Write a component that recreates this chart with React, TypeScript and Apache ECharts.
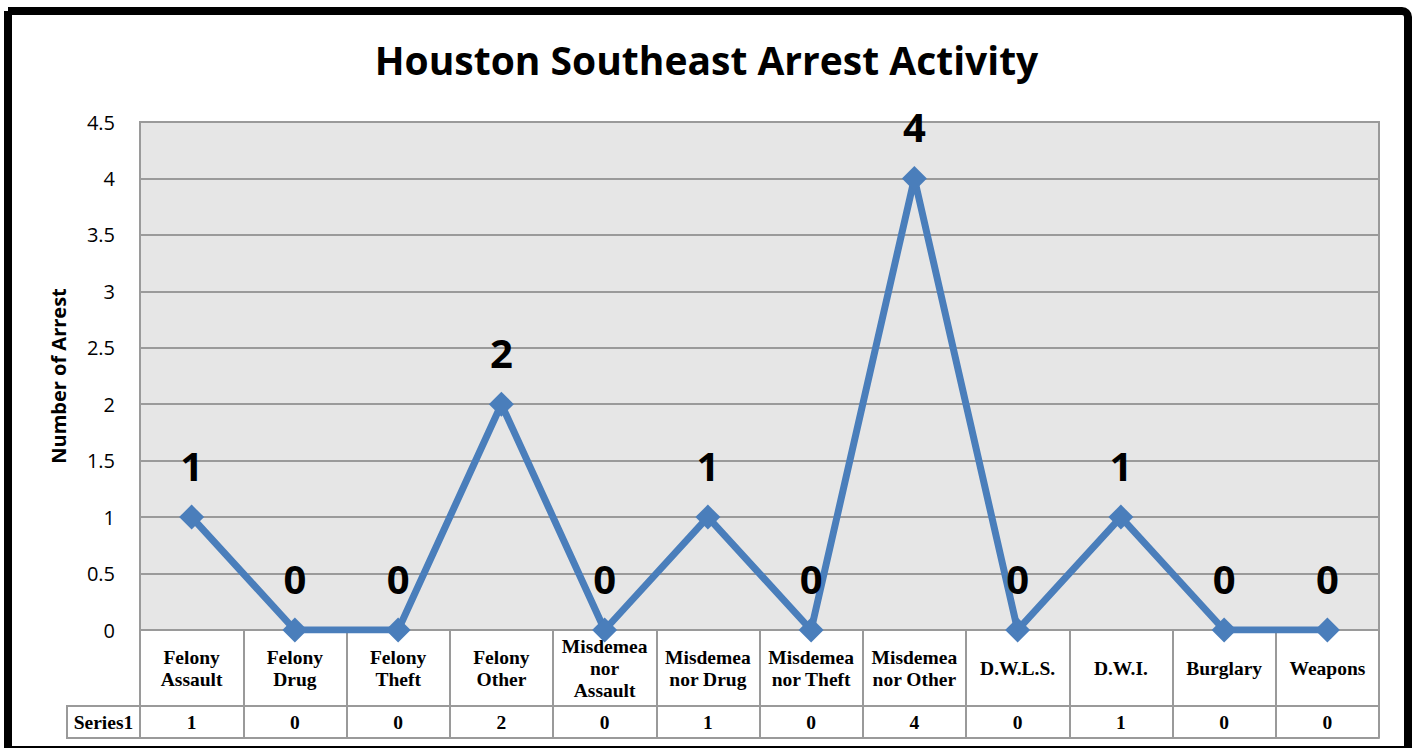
import React, { useEffect, useRef } from "react";
import * as echarts from "echarts";

const categories = [
  "Felony\nAssault",
  "Felony\nDrug",
  "Felony\nTheft",
  "Felony\nOther",
  "Misdemea\nnor\nAssault",
  "Misdemea\nnor Drug",
  "Misdemea\nnor Theft",
  "Misdemea\nnor Other",
  "D.W.L.S.",
  "D.W.I.",
  "Burglary",
  "Weapons",
];
const seriesName = "Series1";
const values = [1, 0, 0, 2, 0, 1, 0, 4, 0, 1, 0, 0];
const yTicks = { min: 0, max: 4.5, interval: 0.5 };
const titleText = "Houston Southeast Arrest Activity";
const yAxisTitle = "Number of Arrest";

const GRID = { left: 140, top: 122, width: 1239, height: 508 };
const TABLE_ROW1 = 76;
const TABLE_ROW2 = 32;
const GRAY = "#9a9a9a";
const SERIF = "'Liberation Serif', serif";
const SANS = "'Open Sans', 'Noto Sans', sans-serif";

export default function App() {
  const ref = useRef<HTMLDivElement>(null);
  useEffect(() => {
    document.body.style.margin = "0";
    const chart = echarts.init(ref.current!, undefined, { renderer: "svg" });
    const bottomY = GRID.top + GRID.height;
    const row2Y = bottomY + TABLE_ROW1;
    chart.setOption({
      animation: false,
      backgroundColor: "#ffffff",
      title: {
        text: titleText,
        left: "center",
        top: 35,
        textStyle: { fontFamily: SANS, fontWeight: "bold", fontSize: 39, color: "#000" },
      },
      grid: {
        left: GRID.left,
        top: GRID.top,
        width: GRID.width,
        height: GRID.height,
        show: true,
        backgroundColor: "#e6e6e6",
        borderColor: GRAY,
        borderWidth: 2,
      },
      xAxis: [
        {
          type: "category",
          data: categories,
          boundaryGap: true,
          position: "bottom",
          axisLine: { show: true, lineStyle: { color: GRAY, width: 2 } },
          axisTick: {
            show: true,
            interval: 0,
            length: TABLE_ROW1 + TABLE_ROW2,
            lineStyle: { color: GRAY, width: 2 },
          },
          axisLabel: {
            interval: 0,
            margin: TABLE_ROW1 / 2,
            verticalAlign: "middle",
            fontFamily: SERIF,
            fontWeight: "bold",
            fontSize: 19.5,
            lineHeight: 22,
            color: "#000",
          },
          splitLine: { show: false },
        },
        {
          type: "category",
          data: categories,
          position: "bottom",
          offset: TABLE_ROW1,
          axisLine: { show: true, lineStyle: { color: GRAY, width: 2 } },
          axisTick: { show: false },
          axisLabel: {
            interval: 0,
            margin: TABLE_ROW2 / 2,
            verticalAlign: "middle",
            fontFamily: SERIF,
            fontWeight: "bold",
            fontSize: 19.5,
            color: "#000",
            formatter: (_v: string, i: number) => String(values[i]),
          },
        },
        {
          type: "category",
          data: categories,
          position: "bottom",
          offset: TABLE_ROW1 + TABLE_ROW2,
          axisLine: { show: true, lineStyle: { color: GRAY, width: 2 } },
          axisTick: { show: false },
          axisLabel: { show: false },
        },
      ],
      yAxis: {
        type: "value",
        min: yTicks.min,
        max: yTicks.max,
        interval: yTicks.interval,
        name: yAxisTitle,
        nameLocation: "middle",
        nameGap: 72,
        nameRotate: 90,
        nameTextStyle: { fontFamily: SANS, fontWeight: "bold", fontSize: 20, color: "#000" },
        axisLine: { show: true, lineStyle: { color: GRAY, width: 2 } },
        axisTick: { show: false },
        axisLabel: { fontFamily: SANS, fontSize: 20, color: "#000", margin: 25 },
        splitLine: { show: true, lineStyle: { color: GRAY, width: 2 } },
      },
      series: [
        {
          name: seriesName,
          type: "line",
          data: values,
          xAxisIndex: 0,
          lineStyle: { color: "#4a7ebb", width: 7 },
          itemStyle: { color: "#4a7ebb" },
          symbol: "diamond",
          symbolSize: 25,
          label: {
            show: true,
            position: "top",
            distance: 19,
            fontFamily: SANS,
            fontWeight: "bold",
            fontSize: 40,
            color: "#000",
          },
        },
      ],
      graphic: [
        {
          type: "rect",
          shape: { x: 67, y: row2Y, width: GRID.left - 67, height: TABLE_ROW2 },
          style: { fill: "#fff", stroke: GRAY, lineWidth: 2 },
        },
        {
          type: "text",
          x: (67 + GRID.left) / 2,
          y: row2Y + TABLE_ROW2 / 2,
          style: {
            text: seriesName,
            align: "center",
            verticalAlign: "middle",
            font: `bold 19.5px ${SERIF}`,
            fill: "#000",
          },
        },
        {
          type: "rect",
          shape: { x: 8, y: 11, width: 1400, height: 739, r: [0, 6, 0, 0] },
          style: { fill: "none", stroke: "#000", lineWidth: 8 },
          silent: true,
        },
      ],
    });
    return () => chart.dispose();
  }, []);
  return <div ref={ref} style={{ width: 1413, height: 748 }} />;
}
